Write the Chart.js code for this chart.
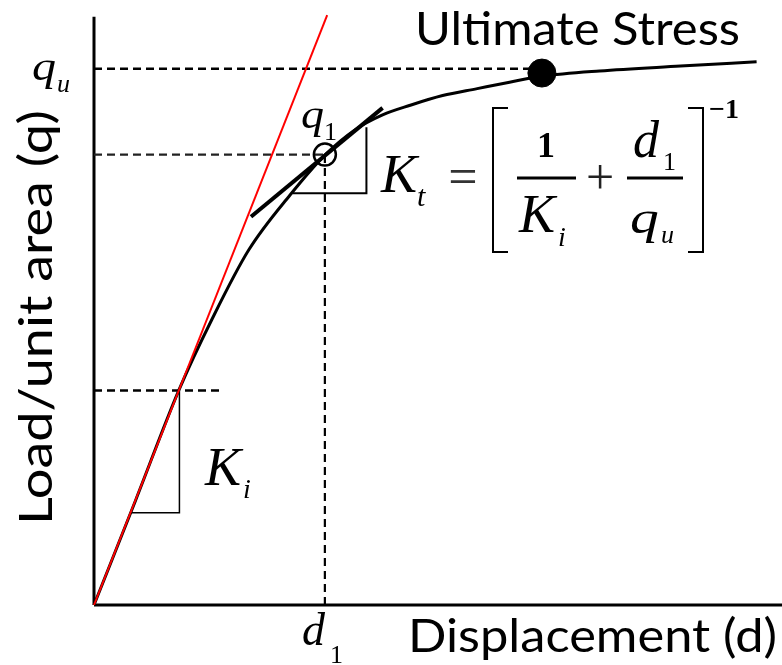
<!DOCTYPE html>
<html>
<head>
<meta charset="utf-8">
<title>Hyperbolic load-displacement</title>
<script src="https://cdn.jsdelivr.net/npm/chart.js@4.4.1/dist/chart.umd.min.js"></script>
<style>
  body { margin: 0; background: #fff; }
  #wrap { width: 782px; height: 665px; }
</style>
</head>
<body>
<div id="wrap"><canvas id="myChart"></canvas></div>
<script>
// load / displacement curve
const curveD = [0, 1.8, 3.7, 5.1, 6.7, 8.5, 10.0, 11.3, 12.5, 13.7, 15.1, 16.6, 18.0, 19.4, 21.9, 25.4, 28.7];
const curveQ = [0, 19.5, 40.3, 53.2, 66.2, 76.5, 83.9, 88.6, 91.4, 93.2, 95.0, 96.3, 97.5, 98.6, 99.6, 100.5, 101.3];

// initial stiffness line (Ki)
const initD = [0, 10.1];
const initQ = [0, 110];

// tangent at q1 (Kt)
const tanD = [6.8, 12.5];
const tanQ = [72.4, 92.7];

// slope triangles
const kiTriD = [1.6, 3.7, 3.7];
const kiTriQ = [17.2, 17.2, 40];
const ktTriD = [8.6, 11.8, 11.8];
const ktTriQ = [76.8, 76.8, 89.1];

// key values
const qu = 100;
const dUlt = 19.4;
const qUltPoint = 99.2;
const q1 = 84;
const d1 = 10;
const qKi = 40;
const kiGuideEnd = 5.6;

const dMax = 29.8;
const qMax = 110.4;
const qAxisTop = 109.7;

const pts = (xs, ys) => xs.map((x, i) => ({ x: x, y: ys[i] }));

function lineSet(data, opts) {
    return Object.assign({
        data: data,
        showLine: true,
        pointRadius: 0,
        borderColor: '#000',
        borderWidth: 2,
        fill: false,
        clip: false
    }, opts);
}

const DASH = [8, 5];

// listed bottom to top
const datasets = [
    // axes
    lineSet(pts([0, dMax], [0, 0]), { borderWidth: 3 }),
    lineSet(pts([0, 0], [0, qAxisTop]), { borderWidth: 3 }),
    // dashed guides
    lineSet(pts([0, dUlt], [qu, qu]), { borderDash: DASH, borderWidth: 2.5 }),
    lineSet(pts([0, d1], [q1, q1]), { borderDash: DASH, borderWidth: 2.2, borderColor: '#222' }),
    lineSet(pts([d1, d1], [0, q1]), { borderDash: DASH, borderWidth: 2.2 }),
    lineSet(pts([0, kiGuideEnd], [qKi, qKi]), { borderDash: DASH, borderWidth: 2.5 }),
    // triangles
    lineSet(pts(kiTriD, kiTriQ), { borderWidth: 1.5 }),
    lineSet(pts(ktTriD, ktTriQ), { borderWidth: 2 }),
    // curve
    lineSet(pts(curveD, curveQ), { borderWidth: 3, cubicInterpolationMode: 'monotone' }),
    // tangent
    lineSet(pts(tanD, tanQ), { borderWidth: 4 }),
    // initial tangent
    lineSet(pts(initD, initQ), { borderColor: '#ff0000', borderWidth: 2 }),
    // q1 point (open)
    {
        data: pts([d1], [q1]),
        pointRadius: 11,
        pointBackgroundColor: 'rgba(0,0,0,0)',
        pointBorderColor: '#000',
        pointBorderWidth: 2.5,
        clip: false
    },
    // ultimate stress point
    {
        data: pts([dUlt], [qUltPoint]),
        pointRadius: 14,
        pointBackgroundColor: '#000',
        pointBorderColor: '#000',
        pointBorderWidth: 1,
        clip: false
    }
];
datasets.forEach((ds, i) => { ds.order = datasets.length - i; });

// draw a string squeezed/stretched to a given width
function fitText(ctx, str, x, y, font, width) {
    ctx.font = font;
    const w = ctx.measureText(str).width;
    ctx.save();
    ctx.translate(x, y);
    ctx.scale(width / w, 1);
    ctx.textAlign = 'left';
    ctx.fillText(str, 0, 0);
    ctx.restore();
}

function math(ctx, str, x, y, size, style, align, sx) {
    ctx.font = (style || '') + ' ' + size + 'px "Liberation Serif", "DejaVu Serif", serif';
    ctx.textAlign = align || 'left';
    ctx.save();
    ctx.translate(x, y);
    ctx.scale(sx || 1, 1);
    ctx.fillText(str, 0, 0);
    ctx.restore();
}

function hline(ctx, x0, x1, y, w) {
    ctx.lineWidth = w;
    ctx.beginPath();
    ctx.moveTo(x0, y);
    ctx.lineTo(x1, y);
    ctx.stroke();
}

const labelsPlugin = {
    id: 'labels',
    afterDatasetsDraw(chart) {
        const ctx = chart.ctx;
        ctx.save();
        ctx.fillStyle = '#000';
        ctx.strokeStyle = '#000';
        ctx.textBaseline = 'alphabetic';

        const sans = '46px Lato, "Open Sans", sans-serif';
        fitText(ctx, 'Ultimate Stress', 415, 45, sans, 325);
        fitText(ctx, 'Displacement (d)', 408, 652, sans, 369);

        ctx.save();
        ctx.translate(52, 525);
        ctx.rotate(-Math.PI / 2);
        fitText(ctx, 'Load/unit area (q)', 0, 0, sans, 415);
        ctx.restore();

        // q_u on the load axis
        math(ctx, 'q', 32, 80, 40, 'italic', 'left', 1.2);
        math(ctx, 'u', 57, 92, 26, 'italic');

        // q1 next to the point
        math(ctx, 'q', 301, 128, 40, 'italic', 'left', 1.15);
        math(ctx, '1', 324, 140, 26);

        // d1 under the axis
        math(ctx, 'd', 302, 645, 46, 'italic');
        math(ctx, '1', 330, 663, 26);

        // Ki
        math(ctx, 'K', 205, 485, 54, 'italic');
        math(ctx, 'i', 243, 498, 28, 'italic');

        // Kt = [1/Ki + d1/qu]^-1
        math(ctx, 'K', 381, 192, 54, 'italic');
        math(ctx, 't', 417, 206, 30, 'italic');
        ctx.fillStyle = '#333';
        math(ctx, '=', 463, 194, 52, '', 'center');
        ctx.fillStyle = '#000';

        ctx.lineWidth = 2;
        ctx.beginPath();
        ctx.moveTo(508, 108); ctx.lineTo(493, 108); ctx.lineTo(493, 252); ctx.lineTo(508, 252);
        ctx.moveTo(688, 108); ctx.lineTo(703, 108); ctx.lineTo(703, 252); ctx.lineTo(688, 252);
        ctx.stroke();

        math(ctx, '1', 546, 157, 36, 'bold', 'center');
        hline(ctx, 517, 576, 178, 3);
        math(ctx, 'K', 519, 232, 54, 'italic');
        math(ctx, 'i', 558, 246, 28, 'italic');

        ctx.fillStyle = '#222';
        math(ctx, '+', 600, 194, 50, '', 'center');
        ctx.fillStyle = '#000';

        math(ctx, 'd', 633, 157, 52, 'italic');
        math(ctx, '1', 663, 170, 26);
        hline(ctx, 627, 683, 178, 3);
        math(ctx, 'q', 630, 233, 46, 'italic', 'left', 1.25);
        math(ctx, 'u', 661, 243, 26, 'italic');

        math(ctx, '\u22121', 709, 118, 28, 'bold');

        ctx.restore();
    }
};

new Chart(document.getElementById('myChart'), {
    type: 'scatter',
    data: { datasets: datasets },
    options: {
        responsive: true,
        maintainAspectRatio: false,
        animation: false,
        layout: { autoPadding: false, padding: { left: 94, right: 0, top: 13, bottom: 60 } },
        plugins: {
            legend: { display: false },
            tooltip: { enabled: false }
        },
        scales: {
            x: { type: 'linear', display: false, min: 0, max: dMax },
            y: { type: 'linear', display: false, min: 0, max: qMax }
        }
    },
    plugins: [labelsPlugin]
});
</script>
</body>
</html>
